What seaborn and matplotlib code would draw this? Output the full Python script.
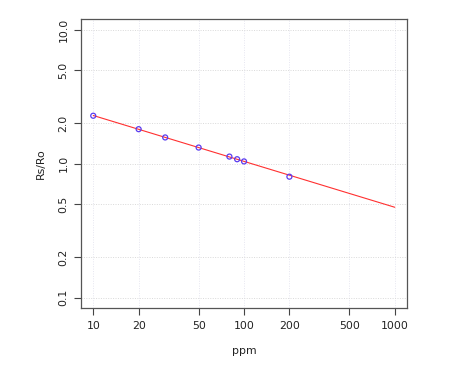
import matplotlib
matplotlib.use("Agg")
import matplotlib.pyplot as plt
import seaborn as sns
import pandas as pd
from matplotlib.ticker import FixedLocator, FixedFormatter, NullLocator

# data
ppm = [10, 20, 30, 50, 80, 90, 100, 200]
rs_ro = [2.28, 1.81, 1.57, 1.32, 1.13, 1.08, 1.04, 0.80]
fit_x = [10, 1000]
fit_y = [2.29, 0.473]
x_ticks = [10, 20, 50, 100, 200, 500, 1000]
x_labels = ["10", "20", "50", "100", "200", "500", "1000"]
y_ticks = [0.1, 0.2, 0.5, 1.0, 2.0, 5.0, 10.0]
y_labels = ["0.1", "0.2", "0.5", "1.0", "2.0", "5.0", "10.0"]

sns.set_style("white")
plt.rcParams['font.family'] = ['DejaVu Sans']

fig = plt.figure(figsize=(4.72, 3.65), dpi=100)
ax = fig.add_axes([0.172, 0.155, 0.690, 0.793])

pts = pd.DataFrame({"ppm": ppm, "rs": rs_ro})
fit = pd.DataFrame({"ppm": fit_x, "rs": fit_y})

ax.set_xscale("log")
ax.set_yscale("log")

for t in x_ticks:
    ax.axvline(t, color="#e6e6f0", lw=0.7, ls=(0, (1, 1.5)), zorder=0)
for t in y_ticks:
    ax.axhline(t, color="#d9d9d9", lw=0.7, ls=(0, (1, 1.5)), zorder=0)

sns.lineplot(data=fit, x="ppm", y="rs", ax=ax, color="#ff3030", lw=0.8, zorder=2)
sns.scatterplot(data=pts, x="ppm", y="rs", ax=ax, marker="o", s=13,
                facecolor="none", edgecolor="#5a3cf0", linewidth=0.9, zorder=3)

ax.set_xlim(10 ** 0.92, 10 ** 3.08)
ax.set_ylim(10 ** -1.08, 10 ** 1.08)

ax.xaxis.set_major_locator(FixedLocator(x_ticks))
ax.xaxis.set_major_formatter(FixedFormatter(x_labels))
ax.xaxis.set_minor_locator(NullLocator())
ax.yaxis.set_major_locator(FixedLocator(y_ticks))
ax.yaxis.set_major_formatter(FixedFormatter(y_labels))
ax.yaxis.set_minor_locator(NullLocator())

ax.tick_params(axis="both", which="major", direction="out", length=5, width=0.8,
               color="#444444", labelsize=7.8, labelcolor="#222222", pad=4,
               bottom=True, left=True)
for lab in ax.get_yticklabels():
    lab.set_rotation(90)
    lab.set_va("center")

for sp in ax.spines.values():
    sp.set_color("#555555")
    sp.set_linewidth(0.9)

ax.set_xlabel("ppm", fontsize=7.8, color="#222222", labelpad=11)
ax.set_ylabel("Rs/Ro", fontsize=7.8, color="#222222", labelpad=9)

fig.savefig("out.png", dpi=100, facecolor="white")
